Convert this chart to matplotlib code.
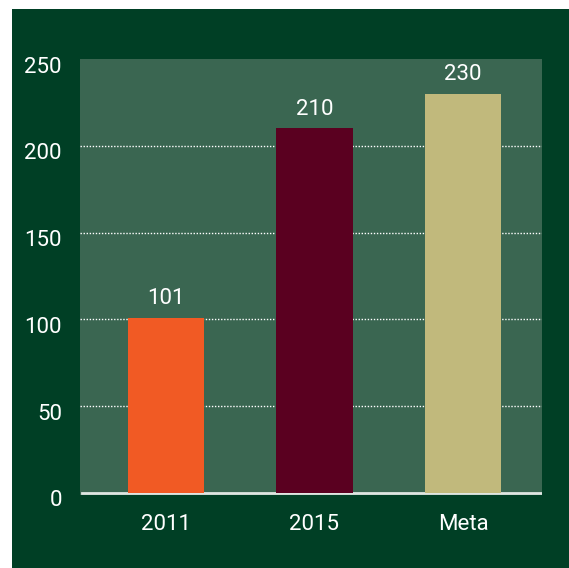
import matplotlib.pyplot as plt
from matplotlib.patches import Rectangle
import matplotlib.transforms as mtransforms

categories = ['2011', '2015', 'Meta']
values = [101, 210, 230]
bar_colors = ['#f15a24', '#5a0020', '#c1b97c']
yticks = [0, 50, 100, 150, 200, 250]

plt.rcParams['font.family'] = ['Roboto', 'DejaVu Sans']

W, H = 569, 568
fig = plt.figure(figsize=(W / 100, H / 100), dpi=100, facecolor='white')

# fondo verde oscuro
fig.patches.append(Rectangle((12 / W, 0), 1 - 12 / W, 1 - 9 / H,
                             transform=fig.transFigure, facecolor='#003f25',
                             edgecolor='none', zorder=-1))

ax = fig.add_axes([80 / W, (H - 495) / H, 462 / W, 436 / H])
ax.set_zorder(1)
ax.set_facecolor('#3a6651')

x = range(len(categories))
ax.bar(x, values, width=0.512, color=bar_colors, zorder=3)

ax.set_xlim(-0.579, 2.532)
ax.set_ylim(-1.2, 249)

for yv in yticks[1:-1]:
    ax.axhline(yv, color='white', lw=1, ls=(0, (1, 1.2)), zorder=2)
ax.axhline(0, color='#dfe6e2', lw=2, xmin=0.005, zorder=2)

for xi, v in zip(x, values):
    ax.annotate(str(v), (xi, v), xytext=(0, 6), textcoords='offset points',
                ha='center', va='bottom', color='white', fontsize=16)

ax.set_xticks(list(x))
ax.set_xticklabels(categories)
ax.set_yticks(yticks)
ax.tick_params(length=0, colors='white', labelsize=16)
ax.tick_params(axis='y', pad=13)
ax.tick_params(axis='x', pad=14)
for lab in ax.get_yticklabels():
    lab.set_transform(lab.get_transform() +
                      mtransforms.ScaledTranslation(0, -4 / 72, fig.dpi_scale_trans))
for s in ax.spines.values():
    s.set_visible(False)

fig.savefig('out.png', dpi=100, facecolor='white')
